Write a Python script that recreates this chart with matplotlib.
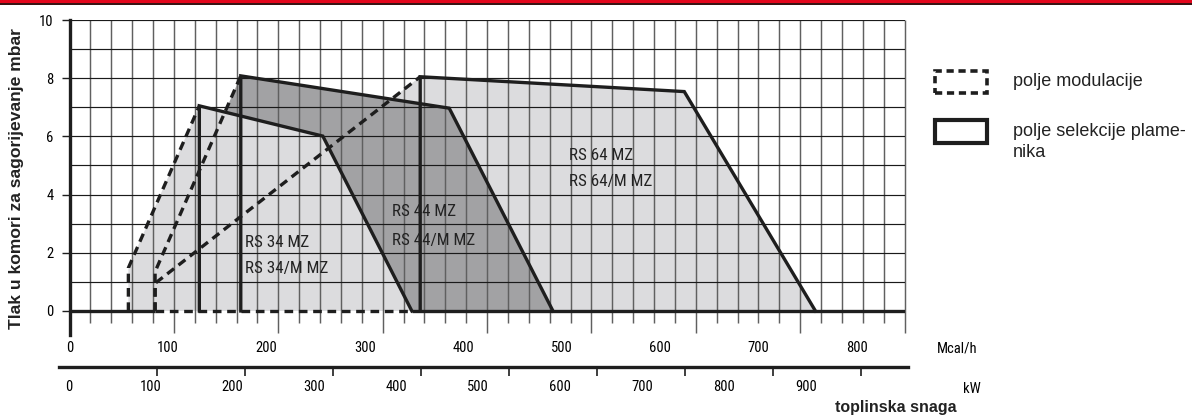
import os
import numpy as np
import matplotlib
matplotlib.use("Agg")
import matplotlib.pyplot as plt
from matplotlib import font_manager
from matplotlib.font_manager import FontProperties
from matplotlib.patches import Polygon, Rectangle

# ---------------- data (x in Mcal/h, y in mbar) ----------------
names_top = ["RS 34 MZ", "RS 44 MZ", "RS 64 MZ"]
names_bottom = ["RS 34/M MZ", "RS 44/M MZ", "RS 64/M MZ"]
mod_start_x = [56.4, 82.0, 82.0]      # start of modulation field
mod_start_y = [1.48, 1.35, 0.95]
sel_x = [124.4, 164.1, 336.0]         # start of burner selection field
sel_top_y = [7.05, 8.08, 8.05]
knee_x = [242.7, 363.8, 589.0]
knee_y = [6.01, 6.97, 7.54]
max_x = [328.0, 463.2, 714.7]

mcal_ticks = [0, 100, 200, 300, 400, 500, 600, 700, 800]
kw_ticks = [0, 100, 200, 300, 400, 500, 600, 700, 800, 900]
y_ticks = [0, 2, 4, 6, 8, 10]

# ---------------- layout ----------------
W, H = 1192, 415
fig = plt.figure(figsize=(W / 100, H / 100), dpi=100)
fig.patch.set_facecolor("white")


def fx(px):
    return px / W


def fy(py):
    return 1 - py / H


# condensed font (the original uses a narrow sans)
def pick_narrow():
    wanted = ["LiberationSansNarrow-Regular", "RobotoCondensed-Regular",
              "NotoSans-Condensed.", "NotoSans-CondensedRegular", "OpenSans_Condensed-Regular",
              "OpenSansCondensed-Regular"]
    files = [f.fname for f in font_manager.fontManager.ttflist]
    for w in wanted:
        for fn in files:
            if w in os.path.basename(fn):
                return fn
    return None


narrow_file = pick_narrow()
renderer = fig.canvas.get_renderer()


def narrow_fp(size):
    if narrow_file:
        return FontProperties(fname=narrow_file, size=size)
    return FontProperties(family="Liberation Sans", size=size)


def fit_size(sample, target_px, lo, hi):
    w, _, _ = renderer.get_text_width_height_descent(sample, narrow_fp(10), ismath=False)
    return float(np.clip(10 * target_px / w, lo, hi))


LAB_FS = fit_size("RS 34/M MZ", 83, 10.5, 13.5)
TICK_FS = 10.5 if narrow_file else 9.5
REG = "Liberation Sans"

INK = "#1e1e1e"
LIGHT = "#dcdcde"
DARK = "#a2a2a4"
fills = [LIGHT, DARK, LIGHT]
dash = (0, (2.6, 1.7))

X0, X1 = 69.5, 904.5
Y_TOP, Y_BOT = 20, 335
ax = fig.add_axes([fx(X0), fy(Y_BOT), (X1 - X0) / W, (Y_BOT - Y_TOP) / H])
ax.set_xlim(0, 800)
ax.set_ylim(-0.825, 10)
ax.set_facecolor("none")
for s in ["top", "right", "bottom"]:
    ax.spines[s].set_visible(False)
ax.spines["left"].set_linewidth(2.4)
ax.spines["left"].set_color(INK)

# fills (RS 64 bottom, RS 44 middle, RS 34 top)
for i in [2, 1, 0]:
    pts = [(mod_start_x[i], 0), (mod_start_x[i], mod_start_y[i]),
           (sel_x[i], sel_top_y[i]), (knee_x[i], knee_y[i]), (max_x[i], 0)]
    ax.add_patch(Polygon(pts, closed=True, facecolor=fills[i], edgecolor="none",
                         zorder=1 + (2 - i) * 0.1))

# grid
grid_x = np.arange(20, 801, 20)
for gx in grid_x:
    low = -0.76 if gx % 100 == 0 else -0.41
    ax.plot([gx, gx], [low, 10], color="#606060", lw=1.05, zorder=2,
            clip_on=False, solid_capstyle="butt")
ax.hlines(np.arange(1, 11), 0, 800, color="#1a1a1a", lw=0.85, zorder=2.1)

# baseline at 0 mbar
ax.plot([0, mod_start_x[1]], [0, 0], color=INK, lw=2.4, zorder=3, solid_capstyle="butt")
ax.plot([mod_start_x[1], max_x[0]], [0, 0], color=INK, lw=2.4, ls=dash, zorder=3)
ax.plot([max_x[0], 800], [0, 0], color=INK, lw=2.4, zorder=3, solid_capstyle="butt")

# outlines
for i in range(3):
    ax.plot([sel_x[i], sel_x[i], knee_x[i], max_x[i]],
            [0, sel_top_y[i], knee_y[i], 0], color=INK, lw=2.4, zorder=4,
            solid_joinstyle="miter")
    ax.plot([mod_start_x[i], mod_start_x[i], sel_x[i]],
            [0, mod_start_y[i], sel_top_y[i]], color=INK, lw=2.4, ls=dash, zorder=4)

# model labels
lab_x = [168.1, 308.7, 478.6]
lab_y1 = [2.35, 3.41, 5.36]
lab_y2 = [1.47, 2.41, 4.44]
for i in range(3):
    ax.text(lab_x[i], lab_y1[i], names_top[i], fontproperties=narrow_fp(LAB_FS),
            va="center", ha="left", color="#222222", zorder=5)
    ax.text(lab_x[i], lab_y2[i], names_bottom[i], fontproperties=narrow_fp(LAB_FS),
            va="center", ha="left", color="#222222", zorder=5)

# y ticks
ax.set_yticks(y_ticks)
ax.set_yticklabels([str(v) for v in y_ticks], fontproperties=narrow_fp(TICK_FS))
ax.tick_params(axis="y", length=5.5, width=1.0, color=INK, pad=6)

# x ticks (Mcal/h) - labels drawn slightly compressed as in the original print
MCAL_LABEL_SCALE = 0.943
ax.set_xticks([v * MCAL_LABEL_SCALE for v in mcal_ticks])
ax.set_xticklabels([str(v) for v in mcal_ticks], fontproperties=narrow_fp(TICK_FS))
ax.tick_params(axis="x", length=0, pad=4.5)

# kW axis
KW_X0, KW_X1, KW_Y = 59, 908, 367
PX_PER_KW = 0.88
ax2 = fig.add_axes([fx(KW_X0), fy(KW_Y), (KW_X1 - KW_X0) / W, 0.0005])
ax2.set_xlim((KW_X0 - 68.5) / PX_PER_KW, (KW_X1 - 68.5) / PX_PER_KW)
ax2.set_facecolor("none")
for s in ["top", "right", "left"]:
    ax2.spines[s].set_visible(False)
ax2.spines["bottom"].set_linewidth(2.4)
ax2.spines["bottom"].set_color(INK)
ax2.set_yticks([])
KW_LABEL_SCALE = 0.931
ax2.set_xticks([v * KW_LABEL_SCALE for v in kw_ticks])
ax2.set_xticklabels([str(v) for v in kw_ticks], fontproperties=narrow_fp(TICK_FS))
ax2.set_xticks(kw_ticks, minor=True)
ax2.tick_params(axis="x", which="major", length=0, pad=9.5)
ax2.tick_params(axis="x", which="minor", length=6.5, width=1.2, color=INK, direction="out")

# unit / axis titles
fig.text(fx(957), fy(348), "Mcal/h", fontproperties=narrow_fp(TICK_FS), ha="center", va="center")
fig.text(fx(972), fy(389), "kW", fontproperties=narrow_fp(TICK_FS), ha="center", va="center")
fig.text(fx(896), fy(407.5), "toplinska snaga", family=REG, fontsize=11.5, weight="bold",
         ha="center", va="center", color="#222222")
fig.text(fx(17), fy(179), "Tlak u komori za sagorijevanje mbar", family=REG, fontsize=12.6,
         weight="bold", rotation=90, ha="center", va="center", color="#222222")

# legend
fig.patches.append(Rectangle((fx(935), fy(93)), (987 - 935) / W, (93 - 70.7) / H,
                             transform=fig.transFigure, fill=False, edgecolor=INK,
                             lw=2.6, ls=(0, (2.0, 1.3))))
fig.patches.append(Rectangle((fx(935), fy(143)), (987 - 935) / W, (143 - 120) / H,
                             transform=fig.transFigure, fill=False, edgecolor=INK, lw=3.0))
fig.text(fx(1013), fy(81.7), "polje modulacije", family=REG, fontsize=13,
         ha="left", va="center", color="#222222")
fig.text(fx(1013), fy(131.7), "polje selekcije plame-", family=REG, fontsize=13,
         ha="left", va="center", color="#222222")
fig.text(fx(1013), fy(152.5), "nika", family=REG, fontsize=13,
         ha="left", va="center", color="#222222")

# red header band
fig.patches.append(Rectangle((0, fy(3)), 1, 3 / H, transform=fig.transFigure,
                             facecolor="#e3061c", edgecolor="none"))
fig.patches.append(Rectangle((0, fy(4.6)), 1, 1.6 / H, transform=fig.transFigure,
                             facecolor="#3a1414", edgecolor="none"))

fig.savefig("out.png", dpi=100)
